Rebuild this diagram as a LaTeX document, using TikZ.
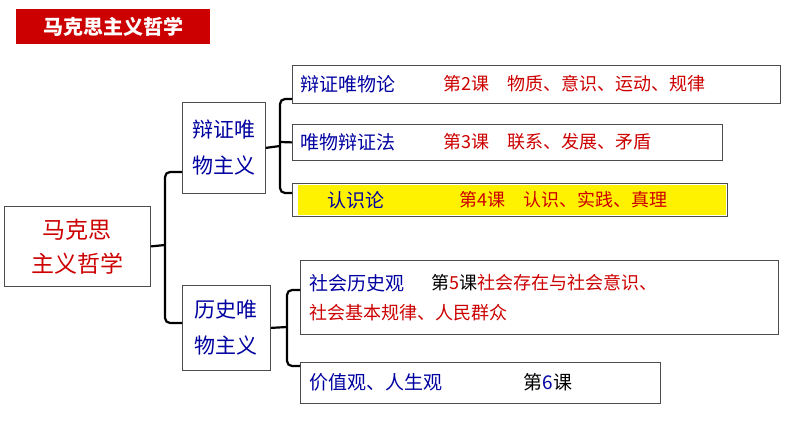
\documentclass[tikz,border=0pt]{standalone}
\usepackage{fontspec}
\setmainfont{Noto Sans CJK SC}
\definecolor{tred}{RGB}{204,0,0}
\definecolor{tblue}{RGB}{0,0,160}
\begin{document}
\begin{tikzpicture}[x=1pt,y=-1pt,
 box/.style={draw=black!70,line width=0.8pt,anchor=north west,inner sep=0pt},
 br/.style={line width=2.2pt,rounded corners=5pt},
 bl/.style={text=tblue,font=\fontsize{19}{22}\selectfont},
 rd/.style={text=tred,font=\fontsize{18}{22}\selectfont}]
\useasboundingbox (0,0) rectangle (794,447);
\node[fill=tred,text=white,font=\fontsize{20}{22}\selectfont\bfseries,minimum width=194pt,minimum height=35pt,anchor=north west,inner sep=0pt] (title) at (16,9) {马克思主义哲学};
\node[box,minimum width=146pt,minimum height=80pt,align=center,text=tred,font=\fontsize{23}{34}\selectfont] (root) at (4,206) {马克思\\主义哲学};
\node[box,minimum width=83pt,minimum height=91pt,align=center,bl,font=\fontsize{21}{36}\selectfont] (dm) at (182,102) {辩证唯\\物主义};
\node[box,minimum width=88pt,minimum height=85pt,align=center,bl,font=\fontsize{21}{36}\selectfont] (hm) at (182,285) {历史唯\\物主义};
\node[box,minimum width=488pt,minimum height=38pt] (b1) at (292,65) {};
\node[bl,anchor=west] at (297,84) {辩证唯物论};
\node[rd,anchor=west] at (440,84) {第2课\quad 物质、意识、运动、规律};
\node[box,minimum width=430pt,minimum height=36pt] (b2) at (292,124) {};
\node[bl,anchor=west] at (297,142) {唯物辩证法};
\node[rd,anchor=west] at (440,142) {第3课\quad 联系、发展、矛盾};
\node[box,minimum width=435pt,minimum height=33pt] (b3) at (292,183) {};
\fill[yellow] (298,185) rectangle (726,215);
\node[bl,anchor=west] at (324,200) {认识论};
\node[rd,anchor=west] at (456,200) {第4课\quad 认识、实践、真理};
\node[box,minimum width=478pt,minimum height=74pt] (b4) at (300,260) {};
\node[bl,anchor=west] at (306,283) {社会历史观};
\node[anchor=west,font=\fontsize{18}{22}\selectfont] at (428,283) {第\textcolor{tred}{5}课\textcolor{tred}{社会存在与社会意识、}};
\node[rd,anchor=west] at (306,313) {社会基本规律、人民群众};
\node[box,minimum width=360pt,minimum height=41pt] (b5) at (300,362) {};
\node[bl,anchor=west] at (306,382) {价值观、人生观};
\node[anchor=west,font=\fontsize{19}{22}\selectfont] at (520,382) {第\textcolor{tblue}{6}课};
% brackets
\draw[line width=2.2pt] (root.east) -- (165,245);
\draw[br] (dm.west |- 0,172) -- (165,172) -- (165,323) -- (hm.west |- 0,323);
\draw[line width=2.2pt] (dm.east) -- (280,146);
\draw[br] (b1.west |- 0,99) -- (280,99) -- (280,193) -- (b3.west |- 0,193);
\draw[line width=2.2pt] (280,142) -- (b2.west);
\draw[line width=2.2pt] (hm.east) -- (287,327);
\draw[br] (300,290) -- (287,290) -- (287,366) -- (300,366);
\end{tikzpicture}
\end{document}
